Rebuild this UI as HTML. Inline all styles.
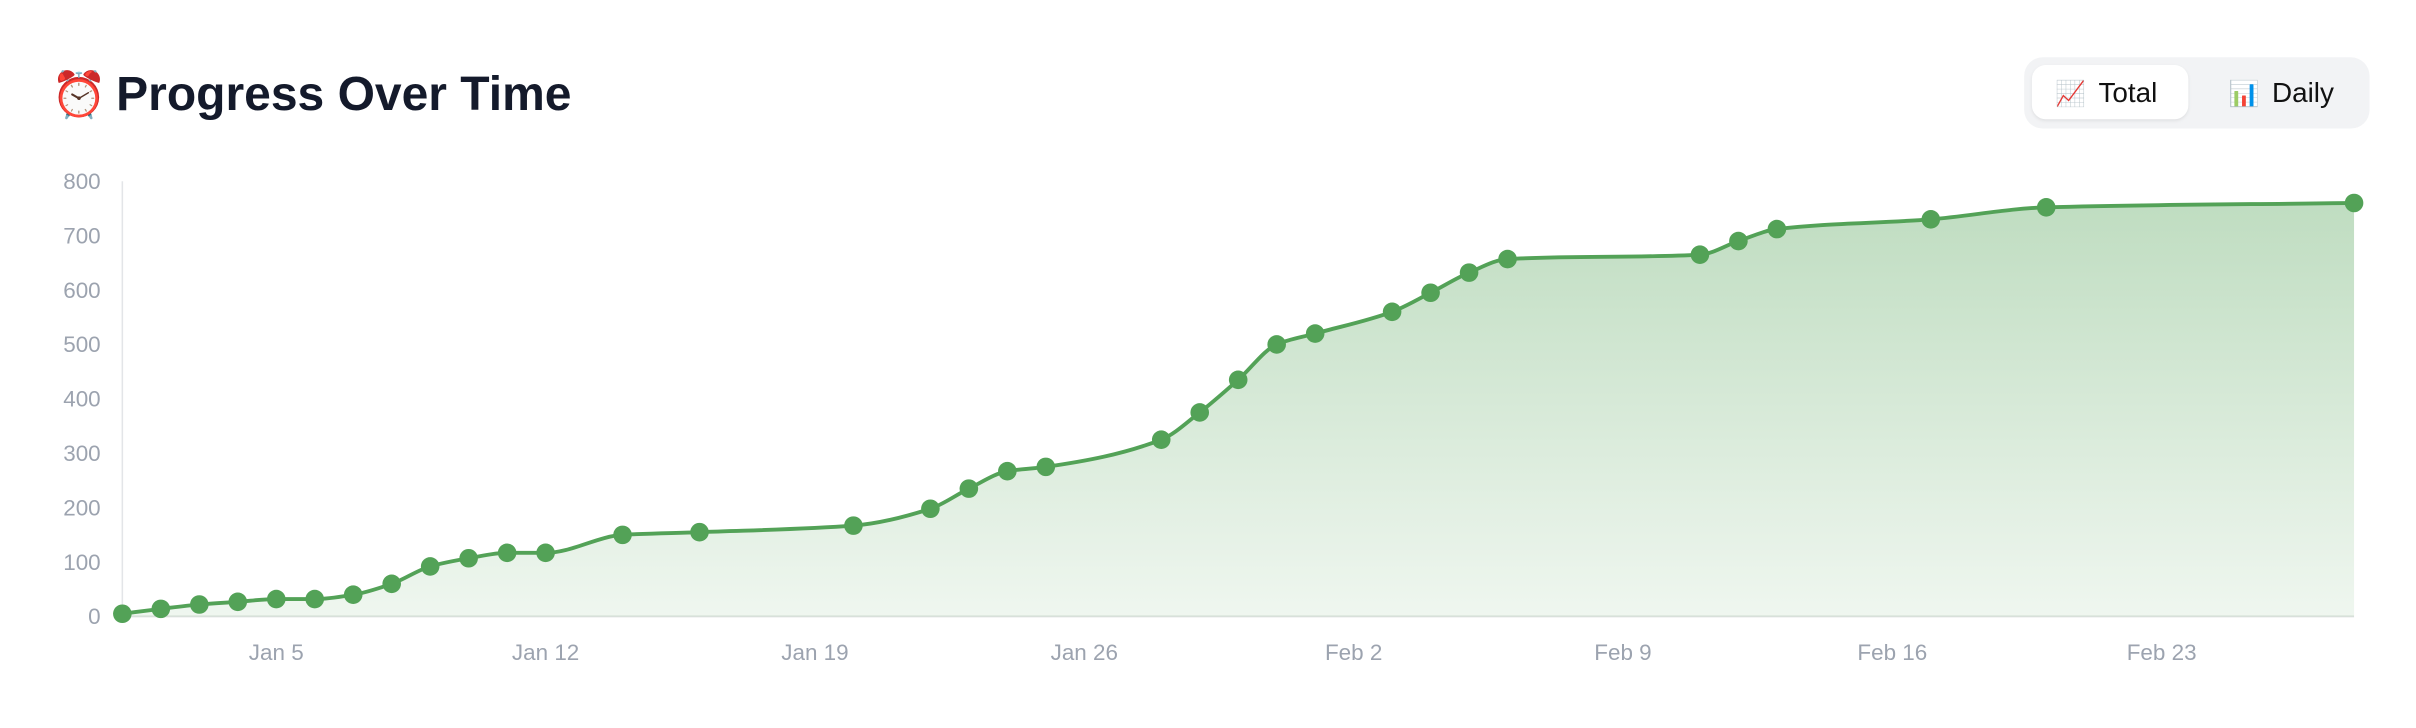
<!DOCTYPE html>
<html><head><meta charset="utf-8">
<style>
html,body{margin:0;padding:0;background:#fff;width:2416px;height:728px;overflow:hidden}
svg{display:block}
text{font-family:"Liberation Sans","Noto Sans CJK JP",sans-serif}
</style></head>
<body>
<svg id="chart" width="2416" height="728" viewBox="0 0 1560 470" preserveAspectRatio="none" xmlns="http://www.w3.org/2000/svg">
<defs>
<linearGradient id="fillGrad" x1="0" y1="0" x2="0" y2="1">
<stop offset="0" stop-color="#4ea052" stop-opacity="0.36"/>
<stop offset="1" stop-color="#4ea052" stop-opacity="0.09"/>
</linearGradient>
</defs>
<g>
<text x="33" y="71" font-size="29">⏰</text>
<text x="75" y="71" font-size="31" font-weight="bold" fill="#141a2b">Progress Over Time</text>
</g>
<g>
<rect x="1307" y="37" width="223" height="46" rx="12" fill="#f2f3f5"/>
<g>
<rect x="1312" y="42" width="101" height="35" rx="9" fill="#fff" style="filter:drop-shadow(0 1px 1px rgba(0,0,0,0.08))"/>
<text x="1327" y="66" font-size="16">📈</text>
<text x="1355" y="66" font-size="18" fill="#111">Total</text>
</g>
<g>
<text x="1439" y="66" font-size="16">📊</text>
<text x="1467" y="66" font-size="18" fill="#111">Daily</text>
</g>
</g>
<g id="axes"></g>
<g id="plot"></g>
</svg>
<script>
const dayIndex = [0,1,2,3,4,5,6,7,8,9,10,11,13,15,19,21,22,23,24,27,28,29,30,31,33,34,35,36,41,42,43,47,50,58];
const totals = [5,14,22,27,32,32,40,60,92,107,117,117,150,155,167,198,235,267,275,325,375,435,500,520,560,595,632,657,665,690,712,730,752,760];
const yTicks = [0,100,200,300,400,500,600,700,800];
const xTickDays = [4,11,18,25,32,39,46,53];
const xTickLabels = ["Jan 5","Jan 12","Jan 19","Jan 26","Feb 2","Feb 9","Feb 16","Feb 23"];

const NS = "http://www.w3.org/2000/svg";
const X0 = 79, X1 = 1520, Y0 = 398, Y1 = 117, DMAX = 58, VMAX = 800;
function xs(d){ return X0 + d/DMAX*(X1-X0); }
function ys(v){ return Y0 - v/VMAX*(Y0-Y1); }
function mk(tag, attrs){ const e=document.createElementNS(NS,tag); for(const k in attrs) e.setAttribute(k,attrs[k]); return e; }

const axes = document.getElementById('axes');
const plot = document.getElementById('plot');

const yAxis = mk('line',{x1:X0,y1:Y1,x2:X0,y2:Y0,stroke:'#e3e5e8','stroke-width':1});


axes.appendChild(yAxis);
const xAxis = mk('line',{x1:X0,y1:Y0,x2:X1,y2:Y0,stroke:'#dfe3e0','stroke-width':1.2});


axes.appendChild(xAxis);

yTicks.forEach(v=>{
  const t = mk('text',{x:65,y:ys(v)+5,'text-anchor':'end','font-size':14.5,fill:'#9ca3af'});
  t.textContent = v;
  
  
  axes.appendChild(t);
});
xTickDays.forEach((d,i)=>{
  const t = mk('text',{x:xs(d),y:426,'text-anchor':'middle','font-size':14.5,fill:'#9ca3af'});
  t.textContent = xTickLabels[i];
  
  
  axes.appendChild(t);
});

const px = dayIndex.map(xs), py = totals.map(ys);
const n = px.length;
const dx=[], dy=[], m=[];
for(let i=0;i<n-1;i++){ dx.push(px[i+1]-px[i]); dy.push(py[i+1]-py[i]); m.push(dy[i]/dx[i]); }
const tg = new Array(n);
tg[0]=m[0]; tg[n-1]=m[n-2];
for(let i=1;i<n-1;i++){
  if(m[i-1]*m[i]<=0) tg[i]=0;
  else { const w1=2*dx[i]+dx[i-1], w2=dx[i]+2*dx[i-1]; tg[i]=(w1+w2)/(w1/m[i-1]+w2/m[i]); }
}
let d = `M${px[0]},${py[0]}`;
for(let i=0;i<n-1;i++){
  const h=dx[i]/3;
  d += ` C${px[i]+h},${py[i]+h*tg[i]} ${px[i+1]-h},${py[i+1]-h*tg[i+1]} ${px[i+1]},${py[i+1]}`;
}
const area = mk('path',{d: d+` L${px[n-1]},${Y0} L${px[0]},${Y0} Z`, fill:'url(#fillGrad)'});


plot.appendChild(area);
const line = mk('path',{d:d, fill:'none', stroke:'#53a257','stroke-width':2.5});


plot.appendChild(line);
for(let i=0;i<n;i++){
  const c = mk('circle',{cx:px[i],cy:py[i],r:6,fill:'#53a257'});
  
  
  plot.appendChild(c);
}
</script>
</body></html>
